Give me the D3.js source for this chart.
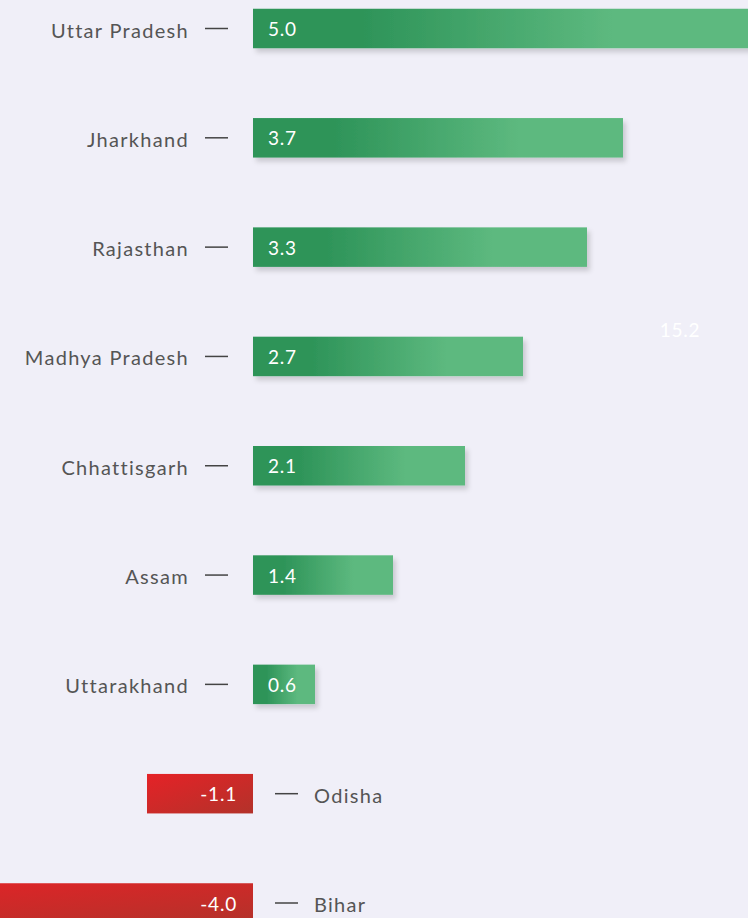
<!DOCTYPE html>
<html>
<head>
<meta charset="utf-8">
<script src="https://cdn.jsdelivr.net/npm/d3@7"></script>
<style>
  html, body { margin: 0; padding: 0; background: #f0eff8; overflow: hidden; }
  svg { display: block; font-family: "Lato", "Open Sans", sans-serif; }
</style>
</head>
<body>
<script>
const states = [
  "Uttar Pradesh", "Jharkhand", "Rajasthan", "Madhya Pradesh",
  "Chhattisgarh", "Assam", "Uttarakhand", "Odisha", "Bihar"
];
const values = [5.0, 3.7, 3.34, 2.7, 2.12, 1.4, 0.62, -1.06, -4.0];
const strayLabel = "15.2";

const width = 748, height = 918;
const rows = states.map((s, i) => ({ state: s, value: values[i] }));

const svg = d3.select("body").append("svg")
  .attr("width", width)
  .attr("height", height);

const defs = svg.append("defs");

const green = defs.append("linearGradient").attr("id", "green");
green.append("stop").attr("offset", 0.22).attr("stop-color", "#2e9459");
green.append("stop").attr("offset", 0.72).attr("stop-color", "#5db97f");

const red = defs.append("linearGradient").attr("id", "red")
  .attr("x1", 0).attr("y1", 0).attr("x2", 1).attr("y2", 1);
red.append("stop").attr("offset", 0).attr("stop-color", "#e52227");
red.append("stop").attr("offset", 1).attr("stop-color", "#b3322a");

const shadow = defs.append("filter").attr("id", "shadow")
  .attr("x", "-10%").attr("y", "-30%").attr("width", "130%").attr("height", "190%");
shadow.append("feDropShadow")
  .attr("dx", 3).attr("dy", 4).attr("stdDeviation", 2.5)
  .attr("flood-color", "#000").attr("flood-opacity", 0.16);

// 100 px per unit, zero line at x = 253
const x = d3.scaleLinear().domain([-2.53, 4.95]).range([0, width]);
const y = d3.scalePoint().domain(states).range([28.5, 903]);
const barH = 39.5;

const row = svg.append("g").selectAll("g")
  .data(rows)
  .join("g")
  .attr("transform", d => `translate(0,${y(d.state)})`);

row.append("rect")
  .attr("x", d => x(Math.min(0, d.value)))
  .attr("y", -barH / 2)
  .attr("width", d => Math.abs(x(d.value) - x(0)))
  .attr("height", barH)
  .attr("fill", d => d.value >= 0 ? "url(#green)" : "url(#red)")
  .attr("filter", d => d.value >= 0 ? "url(#shadow)" : null);

// value labels
row.append("text")
  .attr("x", d => d.value >= 0 ? x(0) + 15 : x(0) - 16)
  .attr("dy", "0.4em")
  .attr("text-anchor", d => d.value >= 0 ? "start" : "end")
  .attr("fill", "#fff")
  .attr("font-size", 19)
  .attr("letter-spacing", 0.8)
  .text(d => d.value.toFixed(1));

// tick dashes
row.append("line")
  .attr("x1", d => d.value >= 0 ? x(0) - 48 : x(0) + 22)
  .attr("x2", d => d.value >= 0 ? x(0) - 25 : x(0) + 45)
  .attr("stroke", "#444")
  .attr("stroke-width", 1.5);

// state names
row.append("text")
  .attr("x", d => d.value >= 0 ? x(0) - 64 : x(0) + 61)
  .attr("dy", "0.45em")
  .attr("text-anchor", d => d.value >= 0 ? "end" : "start")
  .attr("fill", "#555")
  .attr("font-size", 20)
  .attr("letter-spacing", 1.3)
  .text(d => d.state);

svg.append("text")
  .attr("x", 680)
  .attr("y", 330)
  .attr("dy", "0.35em")
  .attr("text-anchor", "middle")
  .attr("fill", "#fff")
  .attr("font-size", 19)
  .attr("letter-spacing", 0.8)
  .text(strayLabel);
</script>
</body>
</html>
